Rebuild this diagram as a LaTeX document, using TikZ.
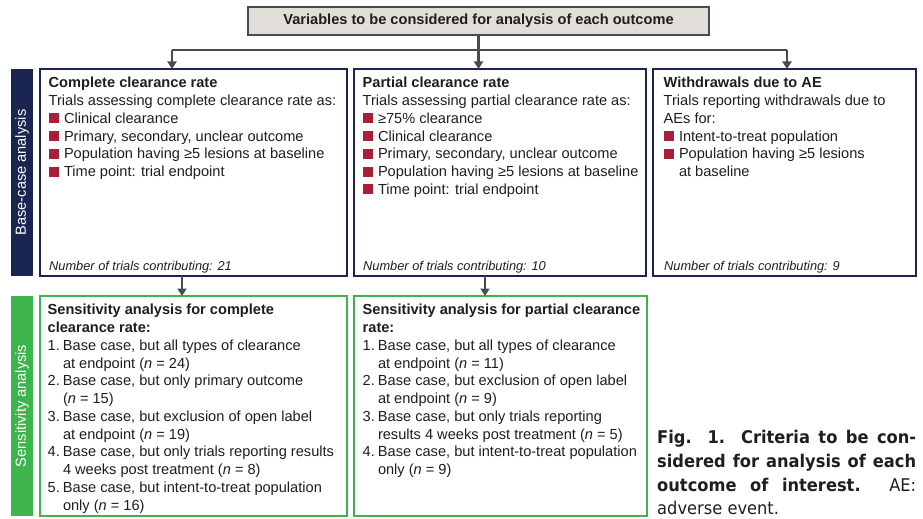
\documentclass[tikz,border=0pt]{standalone}
\usepackage{fontspec}
\setmainfont{Liberation Sans}
\newfontfamily\capfont[FakeStretch=0.93]{DejaVu Sans}
\usepackage{tikz}
\usetikzlibrary{arrows.meta,calc,positioning}

\definecolor{navy}{RGB}{27,37,82}
\definecolor{grn}{RGB}{62,180,76}
\definecolor{bulred}{RGB}{170,30,58}
\definecolor{topfill}{RGB}{225,222,217}
\definecolor{lgrey}{RGB}{75,75,75}
\definecolor{txt}{RGB}{30,30,30}

\newcommand\bsq{\makebox[15.3pt][l]{\color{bulred}\rule{10.5pt}{10pt}}}
\newcommand\itm[1]{\makebox[15.3pt][l]{#1}}
\newcommand\ind{\hspace*{15.3pt}}

\tikzset{
	basebox/.style={draw=navy, line width=2pt, anchor=north west, inner sep=0, outer sep=0},
	sensbox/.style={draw=grn, line width=2pt, anchor=north west, inner sep=0, outer sep=0},
	bar/.style={anchor=north west, inner sep=0, outer sep=0, minimum width=22},
	bartext/.style={rotate=90, text=white, font=\fontsize{14.6}{17.75}\selectfont},
	boxtext/.style={anchor=north west, inner sep=0, align=left, text=txt, font=\fontsize{14.6}{17.75}\selectfont},
	foot/.style={anchor=base west, inner sep=0, text=txt, font=\fontsize{12.8}{15}\selectfont\itshape},
	conn/.style={lgrey, line width=2.6pt},
	arr/.style={conn, -{Triangle[width=9pt,length=7.5pt]}}
}

\begin{document}
\begin{tikzpicture}[x=1pt,y=-1pt]
	\useasboundingbox (0,0) rectangle (923,519);
	% Kopf
		\node (top) at (478.5,21) [draw=lgrey, fill=topfill, line width=2pt, minimum width=461, minimum height=28, inner sep=0, text=txt, font=\fontsize{14.6}{17.75}\selectfont\bfseries] {Variables to be considered for analysis of each outcome};
	% Seitenleisten
		\node (bbar) at (11,69) [bar, fill=navy, minimum height=207] {};
		\node (bbar-t) at (bbar.center) [bartext] {Base-case analysis};
		\node (sbar) at (11,296) [bar, fill=grn, minimum height=220] {};
		\node (sbar-t) at (sbar.center) [bartext] {Sensitivity analysis};
	% Basisfall
		\node (cc) at (40,69) [basebox, minimum width=307, minimum height=207] {};
		\node (pc) at (354,69) [basebox, minimum width=292, minimum height=207] {};
		\node (wd) at (653,69) [basebox, minimum width=263, minimum height=207] {};
		\node (cc-t) at ([xshift=8.5pt,yshift=-8pt]cc.north west) [boxtext] {\textbf{Complete clearance rate}\\
			Trials assessing complete clearance rate as:\\
			\bsq Clinical clearance\\
			\bsq Primary, secondary, unclear outcome\\
			\bsq Population having ≥5 lesions at baseline\\
			\bsq Time point: trial endpoint};
		\node (pc-t) at ([xshift=8.5pt,yshift=-8pt]pc.north west) [boxtext] {\textbf{Partial clearance rate}\\
			Trials assessing partial clearance rate as:\\
			\bsq ≥75\% clearance\\
			\bsq Clinical clearance\\
			\bsq Primary, secondary, unclear outcome\\
			\bsq Population having ≥5 lesions at baseline\\
			\bsq Time point: trial endpoint};
		\node (wd-t) at ([xshift=10.5pt,yshift=-8pt]wd.north west) [boxtext] {\textbf{Withdrawals due to AE}\\
			Trials reporting withdrawals due to\\
			AEs for:\\
			\bsq Intent-to-treat population\\
			\bsq Population having ≥5 lesions\\
			\ind at baseline};
		\node (cc-n) at ([xshift=9pt,yshift=6pt]cc.south west) [foot] {Number of trials contributing: 21};
		\node (pc-n) at ([xshift=9pt,yshift=6pt]pc.south west) [foot] {Number of trials contributing: 10};
		\node (wd-n) at ([xshift=11pt,yshift=6pt]wd.south west) [foot] {Number of trials contributing: 9};
	% Sensitivitaet
		\node (sc) at (40,296) [sensbox, minimum width=307, minimum height=220] {};
		\node (sp) at (354,296) [sensbox, minimum width=293, minimum height=220] {};
		\node (sc-t) at ([xshift=7.5pt,yshift=-8pt]sc.north west) [boxtext] {\textbf{Sensitivity analysis for complete}\\
			\textbf{clearance rate:}\\
			\itm{1.}Base case, but all types of clearance\\
			\ind at endpoint (\textit{n} = 24)\\
			\itm{2.}Base case, but only primary outcome\\
			\ind (\textit{n} = 15)\\
			\itm{3.}Base case, but exclusion of open label\\
			\ind at endpoint (\textit{n} = 19)\\
			\itm{4.}Base case, but only trials reporting results\\
			\ind 4 weeks post treatment (\textit{n} = 8)\\
			\itm{5.}Base case, but intent-to-treat population\\
			\ind only (\textit{n} = 16)};
		\node (sp-t) at ([xshift=8.5pt,yshift=-8pt]sp.north west) [boxtext] {\textbf{Sensitivity analysis for partial clearance}\\
			\textbf{rate:}\\
			\itm{1.}Base case, but all types of clearance\\
			\ind at endpoint (\textit{n} = 11)\\
			\itm{2.}Base case, but exclusion of open label\\
			\ind at endpoint (\textit{n} = 9)\\
			\itm{3.}Base case, but only trials reporting\\
			\ind results 4 weeks post treatment (\textit{n} = 5)\\
			\itm{4.}Base case, but intent-to-treat population\\
			\ind only (\textit{n} = 9)};
	% Bildunterschrift
		\node (cap) at (657,430) [anchor=north west, inner sep=0, text width=259pt, align=justify, text=txt, font=\capfont\fontsize{17.5}{23.8}\selectfont] {\hyphenpenalty=10000 \textbf{Fig. 1. Criteria to be con-}\linebreak
			\textbf{sidered for analysis of each}\linebreak
			\textbf{outcome of interest.} AE:\linebreak
			adverse event.};
	% Pfeile
		\coordinate (jl) at (172,50);
		\coordinate (jr) at (787,50);
		\draw[conn] (top.south) -- (top.south |- jl);
		\draw[conn] (jl) -- (jr);
		\draw[arr] (jl) -- (jl |- cc.north);
		\draw[arr] (top.south |- jl) -- (top.south |- pc.north);
		\draw[arr] (jr) -- (jr |- wd.north);
		\draw[arr] ([xshift=-11.5pt]cc.south) -- ([xshift=-11.5pt]cc.south |- sc.north);
		\draw[arr] ([xshift=-15pt]pc.south) -- ([xshift=-15pt]pc.south |- sp.north);
\end{tikzpicture}
\end{document}
